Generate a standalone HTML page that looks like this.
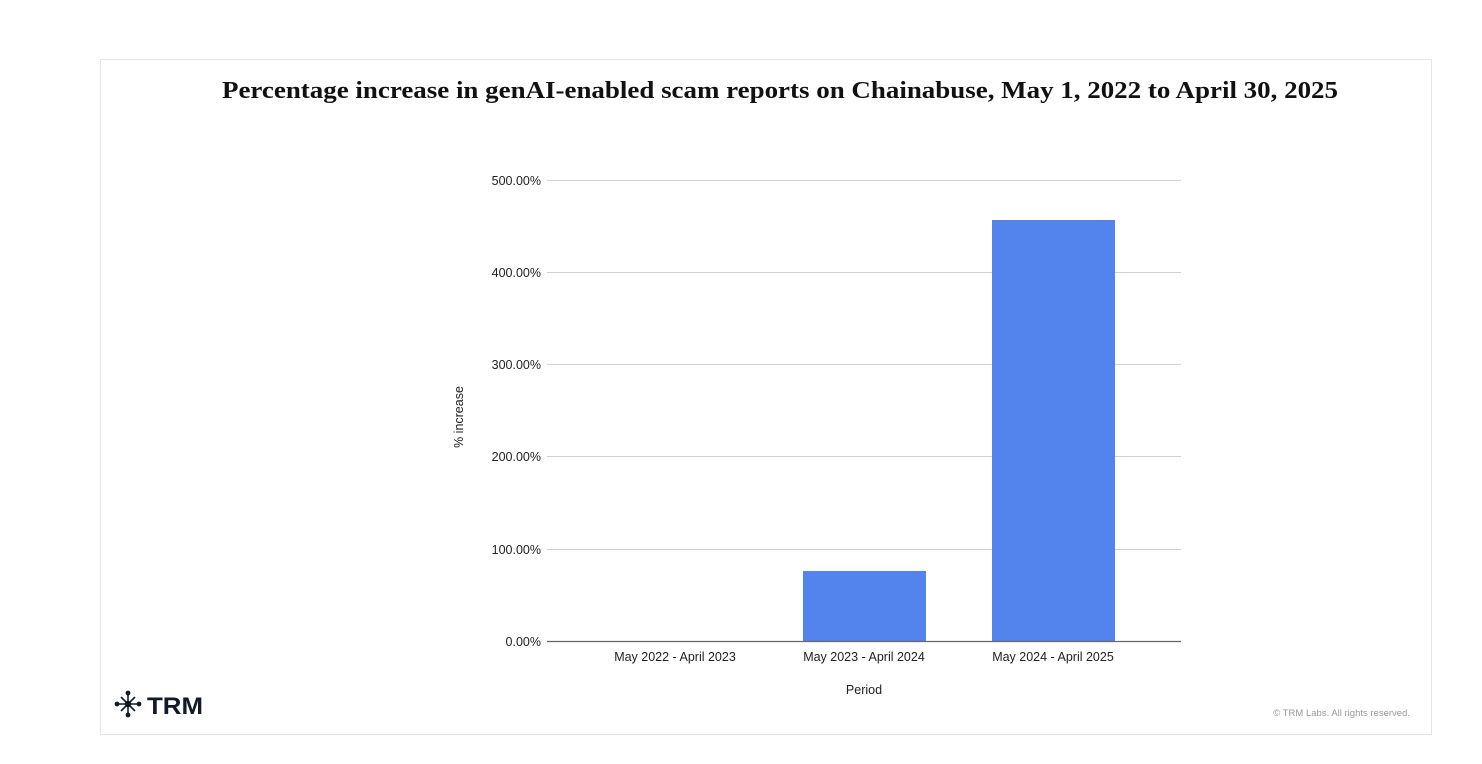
<!DOCTYPE html>
<html><head><meta charset="utf-8"><style>
html,body{margin:0;padding:0;background:#fff;}
</style></head><body>
<svg width="1482" height="764" xmlns="http://www.w3.org/2000/svg" style="display:block">
<rect x="0" y="0" width="1482" height="764" fill="#fff"/>
<rect x="100.5" y="59.5" width="1331" height="675" fill="#fff" stroke="#e6e6e6" stroke-width="1"/>
<text x="222" y="98" font-family="Liberation Serif, serif" font-weight="bold" font-size="24" fill="#111" textLength="1116" lengthAdjust="spacingAndGlyphs">Percentage increase in genAI-enabled scam reports on Chainabuse, May 1, 2022 to April 30, 2025</text>
<g stroke="#d0d0d0" stroke-width="1">
<line x1="547" y1="180.5" x2="1181" y2="180.5"/>
<line x1="547" y1="272.5" x2="1181" y2="272.5"/>
<line x1="547" y1="364.5" x2="1181" y2="364.5"/>
<line x1="547" y1="456.5" x2="1181" y2="456.5"/>
<line x1="547" y1="549.5" x2="1181" y2="549.5"/>
</g>
<g font-family="Liberation Sans, sans-serif" font-size="12.5" fill="#222" text-anchor="end">
<text x="541" y="185">500.00%</text>
<text x="541" y="277">400.00%</text>
<text x="541" y="369">300.00%</text>
<text x="541" y="461">200.00%</text>
<text x="541" y="554">100.00%</text>
<text x="541" y="646">0.00%</text>
</g>
<rect x="803" y="571" width="123" height="70" fill="#5383ec"/>
<rect x="992" y="220" width="123" height="421" fill="#5383ec"/>
<line x1="547" y1="641.5" x2="1181" y2="641.5" stroke="#666" stroke-width="1.2"/>
<g font-family="Liberation Sans, sans-serif" font-size="12.5" fill="#222" text-anchor="middle">
<text x="675" y="661">May 2022 - April 2023</text>
<text x="864" y="661">May 2023 - April 2024</text>
<text x="1053" y="661">May 2024 - April 2025</text>
<text x="864" y="694">Period</text>
<text transform="translate(463,417) rotate(-90)">% increase</text>
</g>
<g stroke="#0f1a2a" stroke-width="1.6" fill="#0f1a2a">
<line x1="128" y1="694" x2="128" y2="714"/>
<line x1="118" y1="704" x2="138" y2="704"/>
<line x1="121" y1="697" x2="135" y2="711"/>
<line x1="135" y1="697" x2="121" y2="711"/>
<circle cx="128" cy="704" r="2.5"/>
<circle cx="128" cy="693" r="1.6"/><circle cx="128" cy="715" r="1.6"/>
<circle cx="117" cy="704" r="1.6"/><circle cx="139" cy="704" r="1.6"/>
</g>
<text x="147" y="714" font-family="Liberation Sans, sans-serif" font-weight="bold" font-size="24" fill="#0f1a2a" textLength="56" lengthAdjust="spacingAndGlyphs">TRM</text>
<text x="1410" y="716" text-anchor="end" font-family="Liberation Sans, sans-serif" font-size="9.5" fill="#999">© TRM Labs. All rights reserved.</text>
</svg>
</body></html>
